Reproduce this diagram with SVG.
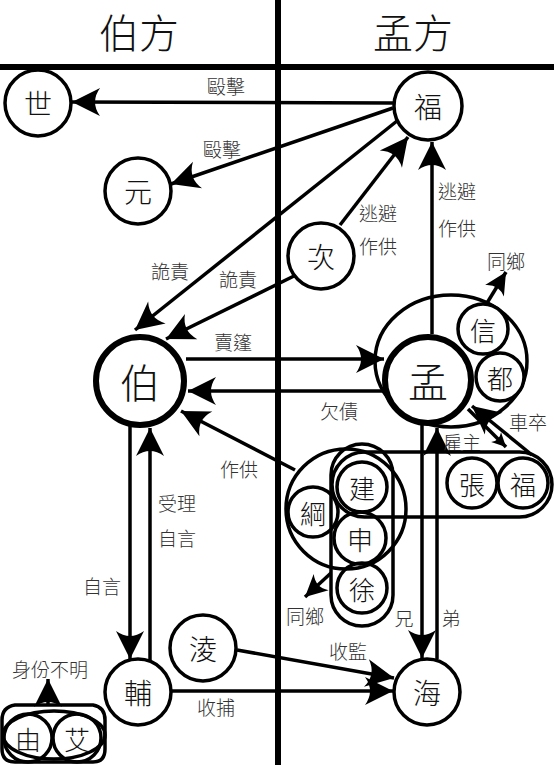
<svg xmlns="http://www.w3.org/2000/svg" width="554" height="765" viewBox="0 0 554 765">
<style>
text{font-family:"Noto Sans CJK TC","Noto Sans CJK SC",sans-serif;text-anchor:middle;dominant-baseline:central;font-weight:300}
.hd{font-size:40px;fill:#111}
.lb{font-size:19px;fill:#333}
.nd{fill:#fff;stroke:#000;stroke-width:3.5}
.bold{fill:#fff;stroke:#000;stroke-width:6}
.grp{fill:none;stroke:#000;stroke-width:3.5}
.t{font-size:28px;fill:#111}
.ts{font-size:26px;fill:#111}
.tb{font-size:40px;fill:#111}
.c{fill:none;stroke:#000;stroke-width:3.5}
.a{marker-end:url(#ah)}
.am{marker-end:url(#ahm)}
.as{marker-end:url(#ahs)}
</style>
<defs>
<marker id="ah" markerUnits="userSpaceOnUse" viewBox="-30 -15 32 30" refX="0" refY="0" markerWidth="32" markerHeight="30" orient="auto"><path d="M0,0 L-28,-14 Q-18,0 -28,14 Z" fill="#000"/></marker>
<marker id="ahm" markerUnits="userSpaceOnUse" viewBox="-24 -12 26 24" refX="0" refY="0" markerWidth="26" markerHeight="24" orient="auto"><path d="M0,0 L-22,-11 Q-14,0 -22,11 Z" fill="#000"/></marker>
<marker id="ahs" markerUnits="userSpaceOnUse" viewBox="-16 -9 18 18" refX="0" refY="0" markerWidth="18" markerHeight="18" orient="auto"><path d="M0,0 L-14,-7 Q-9,0 -14,7 Z" fill="#000"/></marker>
</defs>
<rect width="554" height="765" fill="#fff"/>
<g id="dividers">
<rect x="275" y="0" width="6" height="765" fill="#000"/>
<rect x="0" y="64" width="554" height="6" fill="#000"/>
</g>
<g id="headers">
<text class="hd" x="139" y="31">伯方</text>
<text class="hd" x="413" y="31">孟方</text>
</g>
<g id="connectors">
<line class="c a" x1="393" y1="103" x2="72" y2="102"/>
<line class="c a" x1="393" y1="108" x2="171" y2="184"/>
<line class="c a" x1="397" y1="121" x2="135" y2="330"/>
<line class="c a" x1="296" y1="275" x2="166" y2="339"/>
<line class="c a" x1="340" y1="225" x2="408" y2="137"/>
<line class="c a" x1="432" y1="334" x2="432" y2="142"/>
<line class="c a" x1="186" y1="359" x2="384" y2="359"/>
<line class="c a" x1="384" y1="391" x2="188" y2="391"/>
<line class="c a" x1="295" y1="470" x2="181" y2="411"/>
<line class="c a" x1="130" y1="426" x2="130" y2="659"/>
<line class="c a" x1="150" y1="660" x2="150" y2="428"/>
<line class="c a" x1="237" y1="650" x2="394" y2="678"/>
<line class="c a" x1="172" y1="691" x2="393" y2="691"/>
<line class="c a" x1="422" y1="424" x2="422" y2="658"/>
<line class="c a" x1="437" y1="659" x2="437" y2="428"/>
<line class="c a" x1="532" y1="455" x2="472" y2="406"/>
<line class="c as" x1="468" y1="409" x2="506" y2="447"/>
<line class="c am" x1="487" y1="303" x2="506" y2="272"/>
<line class="c am" x1="331" y1="573" x2="305" y2="597"/>
<line class="c a" x1="48" y1="705" x2="48" y2="679"/>
</g>
<g id="labels">
<text class="lb" x="226" y="85">毆擊</text>
<text class="lb" x="222" y="148">毆擊</text>
<text class="lb" x="378" y="212">逃避</text>
<text class="lb" x="378" y="245">作供</text>
<text class="lb" x="457" y="190">逃避</text>
<text class="lb" x="457" y="227">作供</text>
<text class="lb" x="170" y="270">詭責</text>
<text class="lb" x="238" y="278">詭責</text>
<text class="lb" x="506" y="260">同鄉</text>
<text class="lb" x="233" y="341">賣篷</text>
<text class="lb" x="339" y="410">欠債</text>
<text class="lb" x="528" y="421">車卒</text>
<text class="lb" x="462" y="441">雇主</text>
<text class="lb" x="239" y="468">作供</text>
<text class="lb" x="177" y="502">受理</text>
<text class="lb" x="177" y="537">自言</text>
<text class="lb" x="102" y="585">自言</text>
<text class="lb" x="305" y="615">同鄉</text>
<text class="lb" x="404" y="617">兄</text>
<text class="lb" x="451" y="617">弟</text>
<text class="lb" x="348" y="650">收監</text>
<text class="lb" x="216" y="706">收捕</text>
<text class="lb" x="50" y="668">身份不明</text>
</g>
<g id="group-meng"><ellipse class="grp" cx="451" cy="361" rx="76" ry="66"/></g>
<g id="group-zhangfu"><rect class="grp" x="332" y="452" width="220" height="65" rx="32.5"/></g>
<g id="group-gang"><circle class="grp" cx="346" cy="509" r="60"/></g>
<g id="group-jian"><rect class="grp" x="331" y="444" width="62" height="182" rx="31"/></g>
<g id="group-youai"><path class="grp" d="M15,705 L93,705 Q105,707 105,720 L105,749 Q105,762 93,762 L15,762 Q2,762 2,749 L2,720 Q2,707 15,705 Z"/><ellipse class="grp" cx="54" cy="735" rx="51" ry="24"/></g>
<g id="node-shi"><circle class="nd" cx="38" cy="103" r="33"/><text class="t" x="38" y="103">世</text></g>
<g id="node-fu-top"><circle class="nd" cx="428" cy="106" r="34"/><text class="t" x="428" y="106">福</text></g>
<g id="node-yuan"><circle class="nd" cx="138" cy="191" r="33"/><text class="t" x="138" y="191">元</text></g>
<g id="node-ci"><circle class="nd" cx="321" cy="256" r="33"/><text class="t" x="321" y="256">次</text></g>
<g id="node-bo"><circle class="bold" cx="140" cy="381" r="44"/><text class="tb" x="140" y="381">伯</text></g>
<g id="node-meng"><circle class="bold" cx="428" cy="380" r="43"/><text class="tb" x="428" y="380">孟</text></g>
<g id="node-xin"><circle class="nd" cx="483" cy="329" r="25"/><text class="ts" x="483" y="329">信</text></g>
<g id="node-du"><circle class="nd" cx="500" cy="377" r="24"/><text class="ts" x="500" y="377">都</text></g>
<g id="node-zhang"><circle class="nd" cx="472" cy="483" r="25"/><text class="ts" x="472" y="483">張</text></g>
<g id="node-fu"><circle class="nd" cx="523" cy="483" r="25"/><text class="ts" x="523" y="483">福</text></g>
<g id="node-jian"><circle class="grp" cx="362" cy="487" r="25"/><text class="ts" x="362" y="487">建</text></g>
<g id="node-gang"><circle class="grp" cx="313" cy="512" r="25"/><text class="ts" x="313" y="512">綱</text></g>
<g id="node-shen"><circle class="grp" cx="360" cy="538" r="26"/><text class="ts" x="360" y="538">申</text></g>
<g id="node-xu"><circle class="grp" cx="362" cy="588" r="25"/><text class="ts" x="362" y="588">徐</text></g>
<g id="node-ling"><circle class="nd" cx="203" cy="648" r="33"/><text class="t" x="203" y="648">淩</text></g>
<g id="node-fu2"><circle class="nd" cx="138" cy="692" r="33"/><text class="t" x="138" y="692">輔</text></g>
<g id="node-hai"><circle class="nd" cx="427" cy="692" r="33"/><text class="t" x="427" y="692">海</text></g>
<g id="node-you"><circle class="grp" cx="28" cy="738" r="24"/><text class="ts" x="28" y="738">由</text></g>
<g id="node-ai"><circle class="grp" cx="77" cy="738" r="24"/><text class="ts" x="77" y="738">艾</text></g>
</svg>
